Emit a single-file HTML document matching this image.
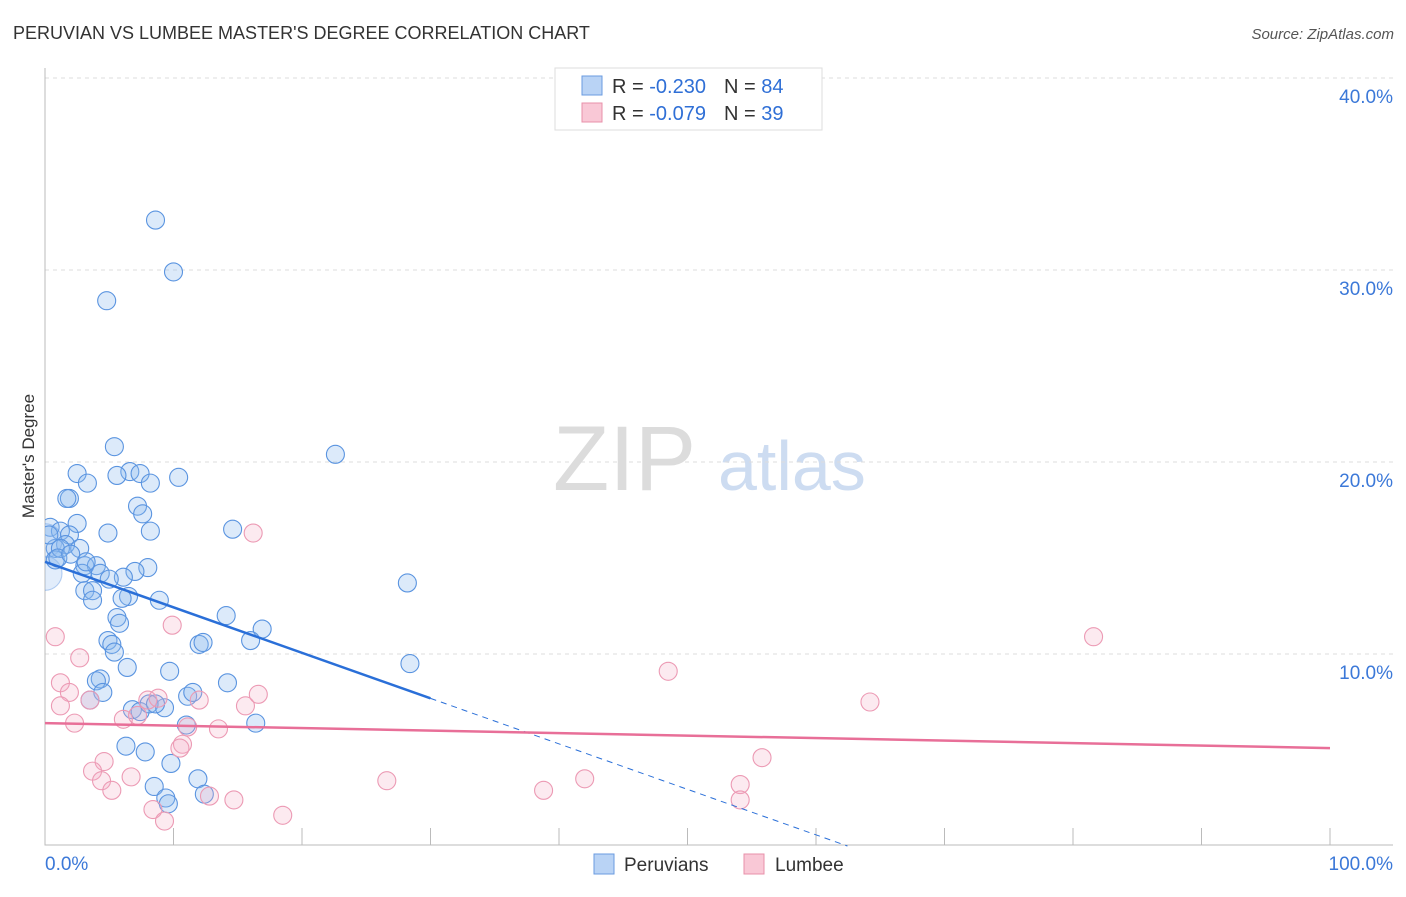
<!DOCTYPE html>
<html><head><meta charset="utf-8"><style>
body{margin:0;background:#fff;width:1406px;height:892px;overflow:hidden;font-family:"Liberation Sans",sans-serif}
svg text{font-family:"Liberation Sans",sans-serif}
</style></head><body>
<svg id="chart" width="1406" height="892" xmlns="http://www.w3.org/2000/svg">
<defs><clipPath id="plotclip"><rect x="45" y="60" width="1360" height="786"/></clipPath></defs>
<text x="13" y="39" font-size="18" fill="#333">PERUVIAN VS LUMBEE MASTER'S DEGREE CORRELATION CHART</text>
<text x="1394" y="39" font-size="15" fill="#555" text-anchor="end" font-style="italic">Source: ZipAtlas.com</text>
<text x="553" y="490" font-size="92" fill="#dcdcdc" font-family="Liberation Serif,serif">ZIP</text>
<text x="718" y="490" font-size="70" fill="#cddcf1">atlas</text>
<g id="grid"></g>
<g id="axes"></g>
<g id="points" clip-path="url(#plotclip)"></g>
<g id="lines"></g>
<text transform="translate(34,456) rotate(-90)" font-size="17" fill="#333" text-anchor="middle">Master's Degree</text>
<g>
<rect x="555" y="68" width="267" height="62" fill="#fff" stroke="#ddd"/>
<rect x="582" y="76" width="20" height="19" fill="#b9d3f5" stroke="#6a9be0"/>
<rect x="582" y="103" width="20" height="19" fill="#f9c8d6" stroke="#e890aa"/>
<text x="612" y="93" font-size="20" fill="#333">R = <tspan fill="#2f6fd6">-0.230</tspan><tspan dx="18">N = </tspan><tspan fill="#2f6fd6">84</tspan></text>
<text x="612" y="120" font-size="20" fill="#333">R = <tspan fill="#2f6fd6">-0.079</tspan><tspan dx="18">N = </tspan><tspan fill="#2f6fd6">39</tspan></text>
</g>
<g>
<rect x="594" y="854" width="20" height="20" fill="#b9d3f5" stroke="#6a9be0"/>
<text x="624" y="871" font-size="19" fill="#333">Peruvians</text>
<rect x="744" y="854" width="20" height="20" fill="#f9c8d6" stroke="#e890aa"/>
<text x="775" y="871" font-size="19" fill="#333">Lumbee</text>
</g>
</svg>
<script>
const yTicks=[10,20,30,40];
const yTickLabels=["10.0%","20.0%","30.0%","40.0%"];
const xTickLabels=["0.0%","100.0%"];
const blueX=[8.6,10.0,4.8,5.4,22.6,2.5,6.6,5.6,7.4,10.4,3.3,8.2,1.9,1.7,7.2,7.6,2.5,14.6,8.2,4.9,0.4,1.2,1.9,1.6,0.8,2.7,8.0,7.0,3.1,4.0,4.3,2.9,6.1,28.2,3.1,3.7,3.7,8.9,6.5,5.6,14.1,16.9,5.8,4.9,5.2,12.0,12.3,16.0,5.4,28.4,6.4,9.7,14.2,4.3,4.0,4.5,11.1,11.5,3.5,6.8,9.3,7.4,8.1,8.6,11.0,16.4,6.3,7.8,9.8,8.5,11.9,9.4,9.6,12.4,0.0,0.0,0.8,1.2,0.3,1.0,2.0,3.2,5.0,6.0];
const blueY=[32.6,29.9,28.4,20.8,20.4,19.4,19.5,19.3,19.4,19.2,18.9,18.9,18.1,18.1,17.7,17.3,16.8,16.5,16.4,16.3,16.6,16.4,16.2,15.7,15.5,15.5,14.5,14.3,14.6,14.6,14.2,14.2,14.0,13.7,13.3,13.3,12.8,12.8,13.0,11.9,12.0,11.3,11.6,10.7,10.5,10.5,10.6,10.7,10.1,9.5,9.3,9.1,8.5,8.7,8.6,8.0,7.8,8.0,7.6,7.1,7.2,7.0,7.4,7.4,6.3,6.4,5.2,4.9,4.3,3.1,3.5,2.5,2.2,2.7,15.9,14.2,14.9,15.5,16.2,15.0,15.2,14.8,13.9,12.9];
const blueBig=[74,75];
const pinkX=[16.2,0.8,9.9,81.6,2.7,48.5,1.2,1.9,3.5,1.2,8.0,8.8,12.0,15.6,16.6,64.2,6.1,7.2,2.3,13.5,11.1,10.7,10.5,55.8,4.6,3.7,4.4,5.2,6.7,26.6,42.0,54.1,8.4,9.3,12.8,14.7,18.5,38.8,54.1];
const pinkY=[16.3,10.9,11.5,10.9,9.8,9.1,8.5,8.0,7.6,7.3,7.6,7.7,7.6,7.3,7.9,7.5,6.6,6.8,6.4,6.1,6.2,5.3,5.1,4.6,4.4,3.9,3.4,2.9,3.6,3.4,3.5,3.2,1.9,1.3,2.6,2.4,1.6,2.9,2.4];
const blueTrend=[14.8,-0.237];
const pinkTrend=[6.4,-0.013];
const NS="http://www.w3.org/2000/svg";
const X=v=>45+v*12.85, Y=v=>846-v*19.2;
function mk(p,t,a){const e=document.createElementNS(NS,t);for(const k in a)e.setAttribute(k,a[k]);document.getElementById(p).appendChild(e);return e;}
yTicks.forEach((t,i)=>{
 const g=mk('grid','line',{x1:45,x2:1393,y1:Y(t),y2:Y(t),stroke:'#ddd','stroke-dasharray':'4,4'});
 
 
 const l=mk('axes','text',{x:1393,y:Y(t)+25,'font-size':19,fill:'#3b78d8','text-anchor':'end'});
 l.textContent=yTickLabels[i];
 
 
});
const ax=mk('axes','path',{d:'M45,68V845H1393',stroke:'#bbb',fill:'none'});


for(let i=1;i<=10;i++){const t=mk('axes','line',{x1:X(i*10),x2:X(i*10),y1:828,y2:845,stroke:'#bbb'});
 
 }
xTickLabels.forEach((s,i)=>{const t=mk('axes','text',{x:i?1393:45,y:870,'font-size':19,fill:'#3b78d8','text-anchor':i?'end':'start'});t.textContent=s;
 
 });
for(let i=0;i<blueX.length;i++){const big=blueBig.includes(i);const c=mk('points','circle',{cx:X(blueX[i]),cy:Y(blueY[i]),r:big?17:9,fill:big?'rgba(140,185,240,0.25)':'rgba(140,185,240,0.3)',stroke:big?'rgba(79,141,223,0.4)':'#5a94e0','stroke-width':1.1});
 
 }
for(let i=0;i<pinkX.length;i++){const c=mk('points','circle',{cx:X(pinkX[i]),cy:Y(pinkY[i]),r:9,fill:'rgba(245,170,195,0.25)',stroke:'#ec9ab4','stroke-width':1.1});
 
 }
const bt=v=>blueTrend[0]+blueTrend[1]*v;
let l1=mk('lines','line',{x1:X(0),y1:Y(bt(0)),x2:X(30),y2:Y(bt(30)),stroke:'#2a6fd8','stroke-width':2.5});


const xe=-blueTrend[0]/blueTrend[1];
let l2=mk('lines','line',{x1:X(30),y1:Y(bt(30)),x2:X(xe),y2:Y(0),stroke:'#2a6fd8','stroke-width':1,'stroke-dasharray':'6,5'});


const pt=v=>pinkTrend[0]+pinkTrend[1]*v;
let l3=mk('lines','line',{x1:X(0),y1:Y(pt(0)),x2:X(100),y2:Y(pt(100)),stroke:'#e86f98','stroke-width':2.5});


</script>
</body></html>
